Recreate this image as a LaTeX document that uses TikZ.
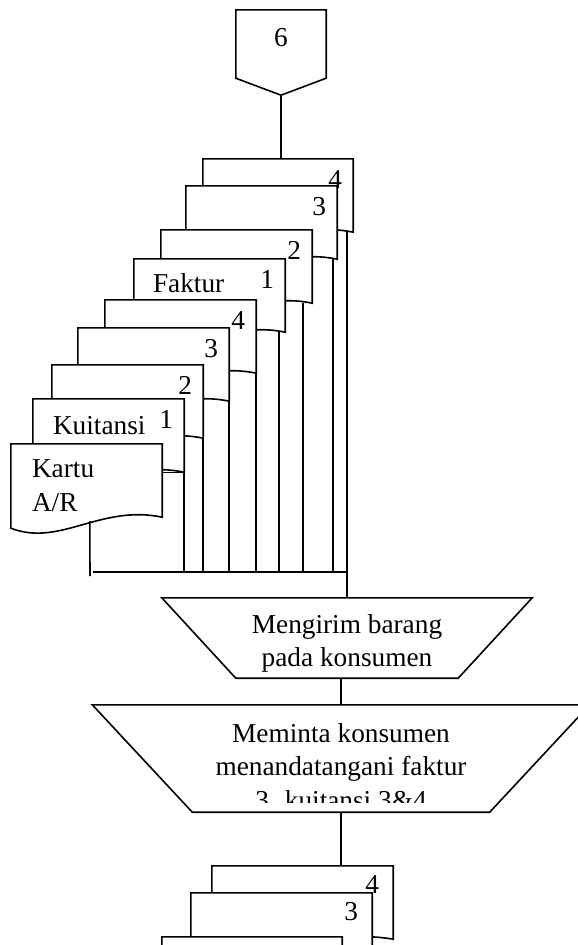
\documentclass[tikz,border=0pt]{standalone}
\usepackage{fontspec}
\setmainfont{Liberation Serif}
\begin{document}
\begin{tikzpicture}[x=1pt, y=-1pt, font=\fontsize{27.3pt}{33.5pt}\selectfont]
  % Define styles
  \tikzstyle{doc}=[rectangle, inner sep=0pt, minimum height=73pt]
  \tikzstyle{docline}=[draw=black, fill=white, line width=1.6pt]
  \tikzstyle{op}=[rectangle, inner sep=0pt]
  \tikzstyle{flow}=[draw=black, line width=1.6pt]
  \tikzstyle{txt}=[inner sep=0pt, align=left]
  \tikzstyle{num}=[inner sep=0pt]

  \useasboundingbox (0,0) rectangle (578,945);
  \clip (0,0) rectangle (578,945);

  % Off-page connector
  \node[op, minimum width=90pt, minimum height=56pt] (conn) at (281,38) {6};
  \draw[flow] (conn.north west) -- (conn.north east) -- ([shift={(0,12)}]conn.south east)
    -- ([shift={(0,29)}]conn.south) -- ([shift={(0,12)}]conn.south west) -- cycle;

  % Documents, back to front
  \foreach \n/\x/\y/\w in {f4/203/159/150, f3/186/186/151, f2/161/230/151, f1/134/259/151,
      k4/105/300/151, k3/78/328/151, k2/52/365/151, k1/33/399/151, kartu/11/444/151,
      doc4/212/866/181, doc3/191/893/181, doc2/162/937/180}{
    \node[doc, minimum width=\w*1pt] (\n) at (\x+\w/2,\y+36.5) {};
    \draw[docline] (\n.north west) -- (\n.north east) -- (\n.south east)
      .. controls +(-0.41*\w,-13) and +(0.325*\w,19) .. ([shift={(0,11)}]\n.south west) -- cycle;
  }

  % Manual operations
  \node[op, minimum width=222pt, minimum height=80pt] (op1) at (347,638) {};
  \draw[flow] ([xshift=-74pt]op1.north west) -- ([xshift=74pt]op1.north east)
    -- (op1.south east) -- (op1.south west) -- cycle;
  \node[txt, align=center] (op1txt) at (347,643.5) {Mengirim barang\\pada konsumen};

  \node[op, minimum width=297pt, minimum height=107pt] (op2) at (341,758.5) {};
  \draw[flow] ([xshift=-100pt]op2.north west) -- ([xshift=100pt]op2.north east)
    -- (op2.south east) -- (op2.south west) -- cycle;
  \begin{scope}
    \clip (0,0) rectangle (578,802);
    \node[txt, align=center] (op2txt) at (341,766.5) {Meminta konsumen\\menandatangani faktur\\3. kuitansi 3\&4};
  \end{scope}

  % Connectors
  \coordinate (bus) at (93,572);
  \coordinate (kend) at (90,576);
  \draw[flow] ([shift={(0,29)}]conn.south) -- (conn.south |- f4.north);
  \foreach \n in {k1,k2,k3,k4}
    \draw[flow] (\n.south east) -- (\n.south east |- bus);
  \foreach \n/\s in {f1/-6,f2/-9,f3/-4}
    \draw[flow] ([xshift=\s pt]\n.south east) -- ([xshift=\s pt]\n.south east |- bus);
  \draw[flow] (f4.south east -| op1.north) -- (op1.north);
  \draw[flow] (bus) -- (bus -| op1.north);
  \draw[flow] ([yshift=8pt]kartu.east) -- ([yshift=8pt]kartu.east -| k1.south east);
  \draw[flow] ([shift={(79,4)}]kartu.south west) -- (kend);
  \draw[flow] (op1.south -| op2.north) -- (op2.north);
  \draw[flow] (op2.south) -- (op2.south |- doc4.north);

  % Labels
  \node[txt, anchor=base west] (fakturtxt) at ([shift={(19,34)}]f1.north west) {Faktur};
  \node[txt, anchor=base west] (kuitansitxt) at ([shift={(20,36)}]k1.north west) {Kuitansi};
  \node[txt, anchor=north west] (kartutxt) at ([shift={(21,16)}]kartu.north west) {Kartu\\A/R};
  \foreach \n/\t in {f4/4, f3/3, f2/2, f1/1, k4/4, k3/3, k2/2, k1/1}
    \node[num] (\n num) at ([shift={(-18,21)}]\n.north east) {\t};
  \foreach \n/\t in {doc4/4, doc3/3}
    \node[num] (\n num) at ([shift={(-21,19)}]\n.north east) {\t};
\end{tikzpicture}
\end{document}
